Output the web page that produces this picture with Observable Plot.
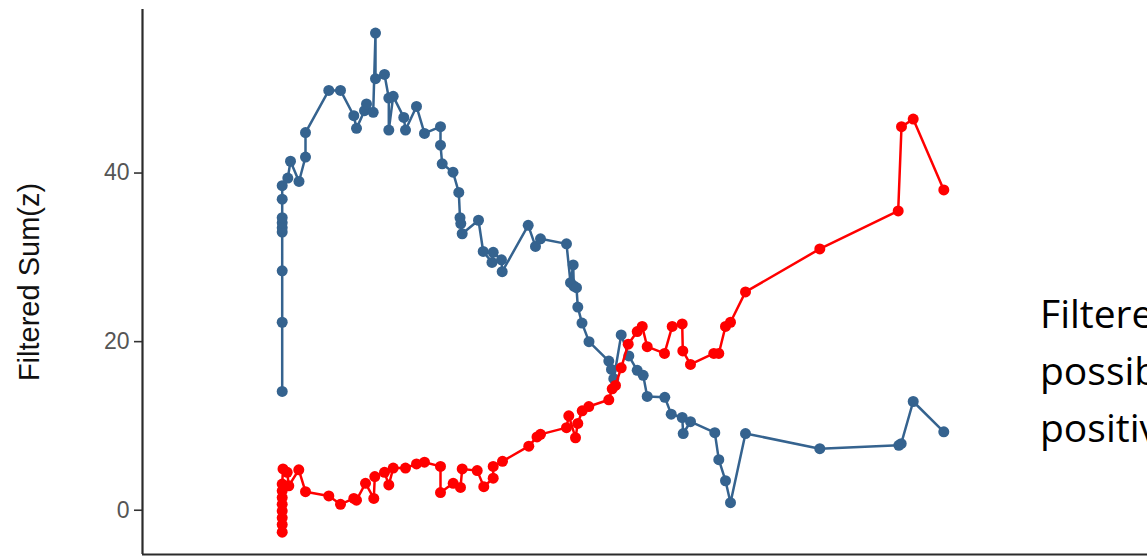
<!DOCTYPE html>
<html><head><meta charset="utf-8">
<script src="https://cdn.jsdelivr.net/npm/d3@7"></script>
<script src="https://cdn.jsdelivr.net/npm/@observablehq/plot@0.6"></script>
<style>
html,body{margin:0;padding:0;background:#fff;overflow:hidden;width:1147px;height:556px;}
#wrap{position:relative;width:1147px;height:556px;overflow:hidden;}
#note{position:absolute;left:1040px;top:284px;font-family:"Open Sans",sans-serif;font-size:39px;line-height:57px;color:#000;white-space:nowrap;}
</style></head>
<body><div id="wrap"><div id="chart"></div><div id="note">Filtered<br>possible<br>positive</div></div>
<script>
// Series 1 (blue): x positions and Filtered Sum(z) values
const blueT = [139.7,139.7,139.7,139.7,139.7,139.7,139.7,139.7,139.7,145.3,
  148,156.5,163,163,186.3,198,211.3,214,222,224,
  230.7,233,233,242,246.3,246.3,250.7,261.3,263,274,
  282,298,298,299.7,310.5,316.3,317.5,318.3,319.7,336,
  340.7,349.5,350.7,359,359.7,385.7,393,398,424,428,
  430.7,431.3,434,435.3,439.5,446.5,466.3,469,471.3,478.7,
  486.3,494.7,500.7,504.7,522.3,528.7,539.7,540.7,548,572.3,
  576.3,583,588,603,677.3,756.3,758.7,770.7,801.3];
const blueV = [14.1,22.3,28.4,33.0,33.5,34.1,34.7,36.9,38.5,39.4,
  41.4,39.0,41.9,44.8,49.8,49.8,46.8,45.3,47.4,48.2,
  47.2,56.6,51.2,51.7,48.9,45.1,49.1,46.6,45.1,47.9,
  44.7,45.5,43.3,41.1,40.1,37.7,34.7,34.0,32.8,34.4,
  30.7,29.4,30.6,29.7,28.3,33.8,31.3,32.2,31.6,27.0,
  29.1,26.6,26.4,24.1,22.2,20.0,17.7,16.7,15.6,20.8,
  18.3,16.6,16.0,13.5,13.4,11.4,11.0,9.1,10.5,9.2,
  6.0,3.5,0.9,9.1,7.3,7.7,7.9,12.9,9.3];
// Series 2 (red)
const redT = [139.7,139.7,139.7,139.7,139.7,139.7,139.7,139.7,140.5,144.7,
  146.3,156.3,163,186.3,198,211.3,214,223,231.3,232.3,
  242,246.3,250.7,263,274,282,298,298,310.7,318,
  319.7,334.7,341.3,350.7,350.7,360,386.3,394.5,398,424,
  426.3,433,435.3,439.7,446.3,466.3,469.7,473,478.7,485.7,
  494.7,499.7,504.7,522,529.7,539.7,540.3,548,571.3,576.3,
  583,588,603,677.3,755.7,759,770.7,801.3];
const redV = [-2.6,-1.7,-0.9,-0.1,0.7,1.5,2.3,3.1,4.9,4.5,
  2.9,4.8,2.2,1.7,0.7,1.4,1.2,3.2,1.4,4.0,
  4.5,3.0,5.0,5.0,5.5,5.7,5.2,2.1,3.2,2.7,
  4.9,4.7,2.8,3.8,5.2,5.8,7.6,8.7,9.0,9.8,
  11.2,8.6,10.3,11.8,12.3,13.1,14.4,14.8,16.9,19.7,
  21.2,21.8,19.4,18.6,21.8,22.1,18.9,17.3,18.6,18.6,
  21.8,22.3,25.9,31.0,35.5,45.5,46.4,38.0];
const yTicks = [0, 20, 40];
const yTitle = "Filtered Sum(z)";

const blue = blueT.map((t, i) => ({t, v: blueV[i]}));
const red = redT.map((t, i) => ({t, v: redV[i]}));
const xDomain = [0, 1005];
const yDomain = [-5.25, 59.4];
const blueCol = "#35638f", redCol = "#ff0000";

const chart = Plot.plot({
  width: 1147, height: 556,
  marginLeft: 142, marginRight: 0, marginTop: 9, marginBottom: 2,
  x: {domain: xDomain, axis: null},
  y: {domain: yDomain, axis: null},
  style: {fontFamily: "'Liberation Sans', Arial, sans-serif", background: "#fff", overflow: "visible"},
  marks: [
    Plot.axisY(yTicks, {tickSize: 8, tickPadding: 5, fontSize: 23, fill: "#555", stroke: "#333", strokeWidth: 1.6, label: null}),
    Plot.ruleX([xDomain[0]], {stroke: "#2b2b2b", strokeWidth: 2.2}),
    Plot.ruleY([yDomain[0]], {stroke: "#2b2b2b", strokeWidth: 2.2}),
    Plot.text([yTitle], {text: d => d, frameAnchor: "left", textAnchor: "middle", rotate: -90, dx: -113, fontSize: 29, fill: "#111"}),
    Plot.line(blue, {x: "t", y: "v", stroke: blueCol, strokeWidth: 2.5}),
    Plot.dot(blue, {x: "t", y: "v", r: 5.5, fill: blueCol, stroke: "none"}),
    Plot.line(red, {x: "t", y: "v", stroke: redCol, strokeWidth: 2.5}),
    Plot.dot(red, {x: "t", y: "v", r: 5.5, fill: redCol, stroke: "none"})
  ]
});
document.getElementById("chart").appendChild(chart);
</script>
</body></html>
